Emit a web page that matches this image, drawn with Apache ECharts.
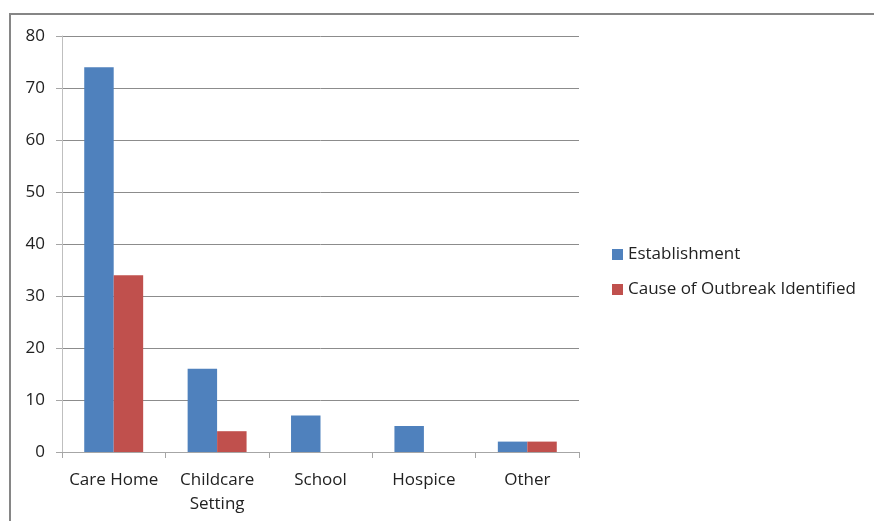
<!DOCTYPE html>
<html>
<head>
<meta charset="utf-8">
<script src="https://cdn.jsdelivr.net/npm/echarts@6/dist/echarts.min.js"></script>
<style>
  html, body { margin: 0; padding: 0; background: #fff; }
  #chart { width: 874px; height: 521px; }
</style>
</head>
<body>
<div id="chart"></div>
<script>
// Outbreak settings and how many had an identified cause
const categories = ['Care Home', 'Childcare\nSetting', 'School', 'Hospice', 'Other'];
const establishment = [74, 16, 7, 5, 2];
const causeIdentified = [34, 4, 0, 0, 2];
const yTicks = { min: 0, max: 80, interval: 10 };

const font = '"Open Sans", "Liberation Sans", sans-serif';
const chart = echarts.init(document.getElementById('chart'));

chart.setOption({
  animation: false,
  backgroundColor: '#ffffff',
  graphic: [{
    type: 'rect',
    shape: { x: 10, y: 14, width: 870, height: 520 },
    style: { fill: 'none', stroke: '#868686', lineWidth: 2 },
    silent: true
  }],
  grid: { left: 62, top: 36, width: 517, height: 416 },
  legend: {
    orient: 'vertical',
    left: 607,
    top: 241,
    itemWidth: 11,
    itemHeight: 11,
    itemGap: 18,
    icon: 'rect',
    textStyle: { fontFamily: font, fontSize: 17, color: '#222' },
    data: ['Establishment', 'Cause of Outbreak Identified']
  },
  xAxis: {
    type: 'category',
    data: categories,
    axisLine: { lineStyle: { color: '#a6a6a6', width: 1 } },
    axisTick: { show: true, alignWithLabel: false, length: 6, lineStyle: { color: '#a6a6a6' } },
    axisLabel: { interval: 0, fontFamily: font, fontSize: 17, color: '#222', margin: 16, lineHeight: 24 },
    splitLine: { show: false }
  },
  yAxis: {
    type: 'value',
    min: yTicks.min,
    max: yTicks.max,
    interval: yTicks.interval,
    axisLine: { show: true, lineStyle: { color: '#bfbfbf', width: 1 } },
    axisTick: { show: true, length: 6, lineStyle: { color: '#a6a6a6' } },
    axisLabel: { fontFamily: font, fontSize: 17, color: '#222', margin: 17 },
    splitLine: { lineStyle: { color: '#8c8c8c', width: 1 } }
  },
  series: [
    {
      name: 'Establishment',
      type: 'bar',
      data: establishment,
      barGap: '0%',
      barCategoryGap: '43%',
      itemStyle: { color: '#4f81bd' }
    },
    {
      name: 'Cause of Outbreak Identified',
      type: 'bar',
      data: causeIdentified,
      barGap: '0%',
      barCategoryGap: '43%',
      itemStyle: { color: '#c0504d' }
    }
  ]
});
</script>
</body>
</html>
